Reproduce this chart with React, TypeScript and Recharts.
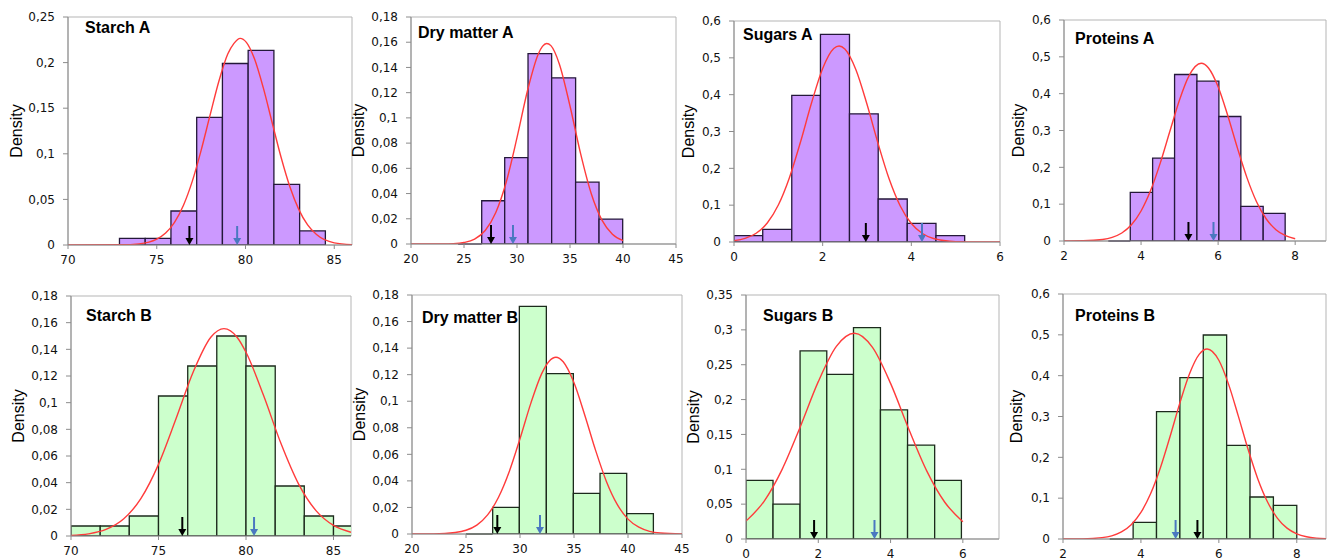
import React from "react";
import {
  ComposedChart,
  Line,
  XAxis,
  YAxis,
  ReferenceArea,
  ReferenceLine,
  ReferenceDot,
  Label,
} from "recharts";

const PURPLE = "#cc99ff";
const PURPLE_EDGE = "#24183a";
const GREEN = "#ccffcc";
const GREEN_EDGE = "#1c2a1c";
const CURVE = "#ff3b3b";
const BLUE_ARROW = "#4a78c0";

// ---- Starch A ----
const starchAEdges = [72.9, 74.35, 75.8, 77.25, 78.7, 80.15, 81.6, 83.05, 84.5];
const starchADensity = [0.0073, 0.0073, 0.0373, 0.14, 0.199, 0.2134, 0.0665, 0.0154];
const starchACurveX = [70, 73, 74, 75, 75.5, 76, 76.5, 77, 77.5, 78, 78.5, 79, 79.35, 79.7, 80.05, 80.5, 81, 81.5, 82, 82.5, 83, 83.5, 84, 85, 86];
const starchACurveY = [0, 0.0002, 0.0012, 0.0064, 0.0131, 0.0249, 0.0434, 0.0698, 0.1038, 0.1421, 0.1796, 0.2094, 0.2211, 0.2266, 0.2222, 0.2044, 0.1725, 0.1343, 0.0965, 0.0639, 0.0391, 0.022, 0.0115, 0.0024, 0.0004];
const starchAMarks = [76.84, 79.53]; // black, blue

// ---- Dry matter A ----
const dryAEdges = [26.67, 28.84, 31.04, 33.27, 35.53, 37.74, 39.97];
const dryADensity = [0.0343, 0.0685, 0.151, 0.1318, 0.049, 0.0198];
const dryAEmpty = [24.45, 26.67];
const dryACurveX = [20, 23, 24, 25, 26, 27, 28, 29, 30, 31, 32, 32.4, 32.8, 33.2, 34, 35, 36, 37, 38, 39, 40];
const dryACurveY = [0, 0.0001, 0.0003, 0.0012, 0.0039, 0.0107, 0.025, 0.0496, 0.0843, 0.1219, 0.1505, 0.1567, 0.159, 0.1573, 0.1426, 0.1094, 0.0716, 0.04, 0.0191, 0.0078, 0.0027];
const dryAMarks = [27.55, 29.62];

// ---- Sugars A ----
const sugarsAEdges = [0, 0.648, 1.303, 1.95, 2.605, 3.253, 3.908, 4.556, 5.203];
const sugarsADensity = [0.0172, 0.0344, 0.398, 0.5638, 0.348, 0.1167, 0.0507, 0.0172];
const sugarsACurveX = [0, 0.25, 0.5, 0.75, 1, 1.25, 1.5, 1.75, 2, 2.25, 2.37, 2.5, 2.75, 3, 3.25, 3.5, 3.75, 4, 4.25, 4.5, 5, 5.5, 6];
const sugarsACurveY = [0.0036, 0.0098, 0.0238, 0.0516, 0.1003, 0.1745, 0.2714, 0.3779, 0.471, 0.5251, 0.532, 0.524, 0.4678, 0.3738, 0.2673, 0.1709, 0.0979, 0.0502, 0.023, 0.0094, 0.0011, 0.0001, 0];
const sugarsAMarks = [2.974, 4.24];

// ---- Proteins A ----
const protAEdges = [3.72, 4.3, 4.87, 5.45, 6.02, 6.59, 7.17, 7.74];
const protADensity = [0.132, 0.225, 0.452, 0.434, 0.338, 0.094, 0.075];
const protAEmpty = [3.15, 3.72];
const protACurveX = [2, 2.5, 3, 3.25, 3.5, 3.75, 4, 4.25, 4.5, 4.75, 5, 5.25, 5.56, 5.75, 6, 6.25, 6.5, 6.75, 7, 7.25, 7.5, 7.75, 8];
const protACurveY = [0, 0.0005, 0.004, 0.0098, 0.0217, 0.044, 0.0814, 0.1376, 0.2121, 0.2986, 0.3836, 0.4496, 0.4825, 0.4698, 0.4187, 0.3406, 0.2528, 0.1714, 0.1059, 0.0597, 0.0308, 0.0145, 0.0062];
const protAMarks = [5.23, 5.88];

// ---- Starch B ----
const starchBEdges = [70, 71.67, 73.33, 75, 76.67, 78.33, 80, 81.67, 83.33, 85, 86.67];
const starchBDensity = [0.0075, 0.0075, 0.015, 0.105, 0.1275, 0.15, 0.1275, 0.0375, 0.015, 0.0075];
const starchBCurveX = [70, 71, 72, 73, 74, 75, 76, 77, 78, 78.74, 79.5, 80, 81, 82, 83, 84, 85, 86];
const starchBCurveY = [0.0005, 0.0016, 0.0049, 0.0127, 0.0282, 0.0537, 0.0879, 0.1235, 0.1492, 0.1555, 0.1489, 0.1378, 0.1055, 0.0693, 0.0391, 0.019, 0.0079, 0.0028];
const starchBMarks = [76.36, 80.46];

// ---- Dry matter B ----
const dryBEdges = [27.47, 29.94, 32.44, 34.94, 37.41, 39.88, 42.35];
const dryBDensity = [0.0201, 0.1715, 0.1208, 0.0306, 0.0457, 0.0153];
const dryBEmpty = [25.0, 27.47];
const dryBCurveX = [20, 22, 24, 25, 26, 27, 28, 29, 30, 31, 32, 32.7, 33.33, 34, 35, 36, 37, 38, 39, 40, 41, 42, 43, 45];
const dryBCurveY = [0, 0.0001, 0.0011, 0.0028, 0.0067, 0.0144, 0.0275, 0.0469, 0.0718, 0.0984, 0.1206, 0.1301, 0.1331, 0.1297, 0.1139, 0.0895, 0.063, 0.0396, 0.0223, 0.0112, 0.0051, 0.002, 0.0008, 0.0001];
const dryBMarks = [27.9, 31.85];

// ---- Sugars B ----
const sugarsBEdges = [0, 0.748, 1.496, 2.235, 2.974, 3.72, 4.47, 5.22, 5.96];
const sugarsBDensity = [0.084, 0.0501, 0.2698, 0.236, 0.3032, 0.1853, 0.1347, 0.084];
const sugarsBCurveX = [0, 0.5, 1, 1.5, 2, 2.5, 3, 3.5, 4, 4.5, 5, 5.5, 6];
const sugarsBCurveY = [0.0257, 0.0541, 0.0999, 0.1608, 0.2257, 0.2763, 0.2951, 0.2748, 0.2232, 0.1581, 0.0977, 0.0527, 0.0248];
const sugarsBMarks = [1.884, 3.555];

// ---- Proteins B ----
const protBEdges = [3.8, 4.4, 5.0, 5.6, 6.2, 6.8, 7.4, 8.0];
const protBDensity = [0.0408, 0.3118, 0.395, 0.4996, 0.2294, 0.1029, 0.0824];
const protBEmpty = [3.2, 3.8];
const protBCurveX = [2, 2.5, 3, 3.25, 3.5, 3.75, 4, 4.25, 4.5, 4.75, 5, 5.25, 5.5, 5.7, 6, 6.25, 6.5, 6.75, 7, 7.25, 7.5, 7.75, 8, 8.25, 8.5, 8.75];
const protBCurveY = [0, 0.0004, 0.0033, 0.0078, 0.0173, 0.035, 0.065, 0.1112, 0.1746, 0.2517, 0.3333, 0.4054, 0.4528, 0.4653, 0.4377, 0.3787, 0.301, 0.2197, 0.1472, 0.0906, 0.0513, 0.0266, 0.0127, 0.0056, 0.0022, 0.0008];
const protBMarks = [5.45, 4.89];

const fmt = (v: number) => String(v).replace(".", ",");

type PanelCfg = {
  title: string;
  edges: number[];
  density: number[];
  empty?: number[];
  curveX: number[];
  curveY: number[];
  marks: number[];
  fill: string;
  stroke: string;
  xDomain: [number, number];
  xTicks: number[];
  yDomain: [number, number];
  yTicks: number[];
  x0: number;
  x1: number;
  y0: number;
  y1: number;
  labelOffset: number;
  titleLeft: number;
  titleTop: number;
};

const arrow = (color: string) => (props: any) => {
  const { cx, cy } = props;
  return (
    <g>
      <line x1={cx} y1={cy - 19} x2={cx} y2={cy - 6} stroke={color} strokeWidth={2} />
      <polygon points={`${cx - 4},${cy - 7} ${cx + 4},${cy - 7} ${cx},${cy}`} fill={color} />
    </g>
  );
};

const tickStyle = { fill: "#111", fontSize: 12, fontFamily: "DejaVu Sans" };

// extra room on the right so the last tick label is not clipped
const RIGHT_PAD = 14;

function Panel({ p }: { p: PanelCfg }) {
  const data = p.curveX.map((x, i) => ({ x, y: p.curveY[i] }));
  const width = p.x1 - p.x0 + 62 + RIGHT_PAD;
  const height = p.y1 - p.y0 + 40;
  return (
    <>
      <div style={{ position: "absolute", left: p.x0 - 62, top: p.y0 - 10 }}>
        <ComposedChart
          width={width}
          height={height}
          data={data}
          margin={{ top: 10, right: RIGHT_PAD, left: 0, bottom: 0 }}
        >
          <XAxis
            dataKey="x"
            type="number"
            domain={p.xDomain}
            ticks={p.xTicks}
            allowDataOverflow
            height={30}
            stroke="#8c8c8c"
            tickSize={4}
            tickMargin={6}
            tick={tickStyle}
          />
          <YAxis
            type="number"
            domain={p.yDomain}
            ticks={p.yTicks}
            allowDataOverflow
            width={62}
            stroke="#8c8c8c"
            tickSize={5}
            tickMargin={8}
            tick={tickStyle}
            tickFormatter={fmt}
          >
            <Label
              value="Density"
              angle={-90}
              position="insideLeft"
              offset={p.labelOffset}
              style={{ textAnchor: "middle", fontFamily: "Liberation Sans", fontSize: 16, fill: "#000" }}
            />
          </YAxis>
          <ReferenceArea
            x1={p.xDomain[0]}
            x2={p.xDomain[1]}
            y1={p.yDomain[0]}
            y2={p.yDomain[1]}
            fill="none"
            stroke="#b5b5b5"
          />
          {p.density.map((d, i) => (
            <ReferenceArea
              key={i}
              x1={p.edges[i]}
              x2={p.edges[i + 1]}
              y1={0}
              y2={d}
              fill={p.fill}
              fillOpacity={1}
              stroke={p.stroke}
              strokeWidth={1.3}
              ifOverflow="hidden"
            />
          ))}
          {p.empty && (
            <ReferenceLine
              segment={[
                { x: p.empty[0], y: 0 },
                { x: p.empty[1], y: 0 },
              ]}
              stroke={p.stroke}
              strokeWidth={1.3}
            />
          )}
          <Line
            dataKey="y"
            type="monotone"
            stroke={CURVE}
            strokeWidth={1.4}
            dot={false}
            activeDot={false}
            isAnimationActive={false}
          />
          <ReferenceDot x={p.marks[0]} y={0} shape={arrow("#000")} />
          <ReferenceDot x={p.marks[1]} y={0} shape={arrow(BLUE_ARROW)} />
        </ComposedChart>
      </div>
      <div
        style={{
          position: "absolute",
          left: p.titleLeft,
          top: p.titleTop,
          fontFamily: "Liberation Sans",
          fontWeight: "bold",
          fontSize: 16,
          lineHeight: "16px",
          whiteSpace: "nowrap",
          color: "#000",
        }}
      >
        {p.title}
      </div>
    </>
  );
}

const panels: PanelCfg[] = [
  {
    title: "Starch A", edges: starchAEdges, density: starchADensity, curveX: starchACurveX, curveY: starchACurveY,
    marks: starchAMarks, fill: PURPLE, stroke: PURPLE_EDGE,
    xDomain: [70, 86], xTicks: [70, 75, 80, 85], yDomain: [0, 0.25], yTicks: [0, 0.05, 0.1, 0.15, 0.2, 0.25],
    x0: 68, x1: 352, y0: 17, y1: 245, labelOffset: 10, titleLeft: 85, titleTop: 20,
  },
  {
    title: "Dry matter A", edges: dryAEdges, density: dryADensity, empty: dryAEmpty, curveX: dryACurveX, curveY: dryACurveY,
    marks: dryAMarks, fill: PURPLE, stroke: PURPLE_EDGE,
    xDomain: [20, 45], xTicks: [20, 25, 30, 35, 40, 45], yDomain: [0, 0.18], yTicks: [0, 0.02, 0.04, 0.06, 0.08, 0.1, 0.12, 0.14, 0.16, 0.18],
    x0: 411, x1: 676, y0: 17, y1: 244, labelOffset: 9, titleLeft: 418, titleTop: 25,
  },
  {
    title: "Sugars A", edges: sugarsAEdges, density: sugarsADensity, curveX: sugarsACurveX, curveY: sugarsACurveY,
    marks: sugarsAMarks, fill: PURPLE, stroke: PURPLE_EDGE,
    xDomain: [0, 6], xTicks: [0, 2, 4, 6], yDomain: [0, 0.6], yTicks: [0, 0.1, 0.2, 0.3, 0.4, 0.5, 0.6],
    x0: 734, x1: 1000, y0: 21, y1: 242, labelOffset: 16, titleLeft: 743, titleTop: 27,
  },
  {
    title: "Proteins A", edges: protAEdges, density: protADensity, empty: protAEmpty, curveX: protACurveX, curveY: protACurveY,
    marks: protAMarks, fill: PURPLE, stroke: PURPLE_EDGE,
    xDomain: [2, 8.8], xTicks: [2, 4, 6, 8], yDomain: [0, 0.6], yTicks: [0, 0.1, 0.2, 0.3, 0.4, 0.5, 0.6],
    x0: 1064, x1: 1326, y0: 20, y1: 241, labelOffset: 16, titleLeft: 1075, titleTop: 31,
  },
  {
    title: "Starch B", edges: starchBEdges, density: starchBDensity, curveX: starchBCurveX, curveY: starchBCurveY,
    marks: starchBMarks, fill: GREEN, stroke: GREEN_EDGE,
    xDomain: [70, 86], xTicks: [70, 75, 80, 85], yDomain: [0, 0.18], yTicks: [0, 0.02, 0.04, 0.06, 0.08, 0.1, 0.12, 0.14, 0.16, 0.18],
    x0: 71, x1: 351, y0: 296, y1: 536, labelOffset: 9, titleLeft: 86, titleTop: 308,
  },
  {
    title: "Dry matter B", edges: dryBEdges, density: dryBDensity, empty: dryBEmpty, curveX: dryBCurveX, curveY: dryBCurveY,
    marks: dryBMarks, fill: GREEN, stroke: GREEN_EDGE,
    xDomain: [20, 45], xTicks: [20, 25, 30, 35, 40, 45], yDomain: [0, 0.18], yTicks: [0, 0.02, 0.04, 0.06, 0.08, 0.1, 0.12, 0.14, 0.16, 0.18],
    x0: 412, x1: 682, y0: 295, y1: 534, labelOffset: 9, titleLeft: 422, titleTop: 310,
  },
  {
    title: "Sugars B", edges: sugarsBEdges, density: sugarsBDensity, curveX: sugarsBCurveX, curveY: sugarsBCurveY,
    marks: sugarsBMarks, fill: GREEN, stroke: GREEN_EDGE,
    xDomain: [0, 7], xTicks: [0, 2, 4, 6], yDomain: [0, 0.35], yTicks: [0, 0.05, 0.1, 0.15, 0.2, 0.25, 0.3, 0.35],
    x0: 746, x1: 999, y0: 295, y1: 539, labelOffset: 9, titleLeft: 763, titleTop: 308,
  },
  {
    title: "Proteins B", edges: protBEdges, density: protBDensity, empty: protBEmpty, curveX: protBCurveX, curveY: protBCurveY,
    marks: protBMarks, fill: GREEN, stroke: GREEN_EDGE,
    xDomain: [2, 8.75], xTicks: [2, 4, 6, 8], yDomain: [0, 0.6], yTicks: [0, 0.1, 0.2, 0.3, 0.4, 0.5, 0.6],
    x0: 1063, x1: 1326, y0: 294, y1: 539, labelOffset: 15, titleLeft: 1075, titleTop: 308,
  },
];

export default function App() {
  return (
    <div
      style={{
        position: "absolute",
        left: 0,
        top: 0,
        width: 1327,
        height: 560,
        overflow: "hidden",
        background: "#fff",
      }}
    >
      {panels.map((p) => (
        <Panel key={p.title} p={p} />
      ))}
    </div>
  );
}
